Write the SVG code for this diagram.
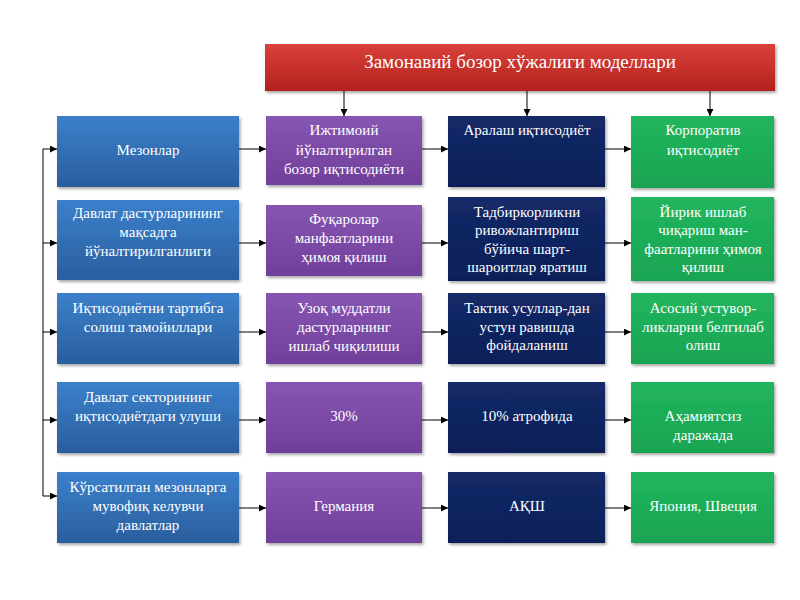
<svg xmlns="http://www.w3.org/2000/svg" width="800" height="600" viewBox="0 0 800 600">
<defs>
<linearGradient id="gRed" x1="0" y1="0" x2="0" y2="1"><stop offset="0" stop-color="#d9413a"/><stop offset="1" stop-color="#b3221e"/></linearGradient>
<linearGradient id="gBlue" x1="0" y1="0" x2="0" y2="1"><stop offset="0" stop-color="#3b80cb"/><stop offset="1" stop-color="#2a5e9e"/></linearGradient>
<linearGradient id="gPurple" x1="0" y1="0" x2="0" y2="1"><stop offset="0" stop-color="#8656b2"/><stop offset="1" stop-color="#703f9a"/></linearGradient>
<linearGradient id="gNavy" x1="0" y1="0" x2="0" y2="1"><stop offset="0" stop-color="#132a68"/><stop offset="1" stop-color="#0d1f58"/></linearGradient>
<linearGradient id="gGreen" x1="0" y1="0" x2="0" y2="1"><stop offset="0" stop-color="#22b55e"/><stop offset="1" stop-color="#19a452"/></linearGradient>
<filter id="sh" x="-10%" y="-10%" width="130%" height="130%"><feDropShadow dx="1.5" dy="2" stdDeviation="1.5" flood-color="#000" flood-opacity="0.35"/></filter>
<marker id="ah" viewBox="0 0 10 10" refX="10" refY="5" markerWidth="7" markerHeight="7" markerUnits="userSpaceOnUse" orient="auto"><path d="M0,0 L10,5 L0,10 z" fill="#000"/></marker>
</defs>
<style>
.t{font-family:"Liberation Serif","Times New Roman",serif;font-size:15px;fill:#fff;text-anchor:middle}
.h{font-family:"Liberation Serif","Times New Roman",serif;font-size:19px;fill:#fff;text-anchor:middle}
.c{stroke:#000;stroke-width:1;fill:none;marker-end:url(#ah)}
.b{fill:url(#gBlue);filter:url(#sh)}
.p{fill:url(#gPurple);filter:url(#sh)}
.n{fill:url(#gNavy);filter:url(#sh)}
.g{fill:url(#gGreen);filter:url(#sh)}
</style>
<rect width="800" height="600" fill="#fff"/>
<g id="connectors">
<path class="c" d="M344,91 V116"/>
<path class="c" d="M527,91 V116"/>
<path class="c" d="M710,91 V116"/>
<path d="M43,149 V496" stroke="#000" stroke-width="1" fill="none"/>
<path class="c" d="M43,149 H57"/>
<path class="c" d="M43,243 H57"/>
<path class="c" d="M43,332 H57"/>
<path class="c" d="M43,420 H57"/>
<path class="c" d="M43,496 H57"/>
<path class="c" d="M239,149 H266"/>
<path class="c" d="M422,149 H448"/>
<path class="c" d="M605,149 H631"/>
<path class="c" d="M239,243 H266"/>
<path class="c" d="M422,243 H448"/>
<path class="c" d="M605,243 H631"/>
<path class="c" d="M239,332 H266"/>
<path class="c" d="M422,332 H448"/>
<path class="c" d="M605,332 H631"/>
<path class="c" d="M239,420 H266"/>
<path class="c" d="M422,420 H448"/>
<path class="c" d="M605,420 H631"/>
<path class="c" d="M239,508 H266"/>
<path class="c" d="M422,508 H448"/>
<path class="c" d="M605,508 H631"/>
</g>
<g id="header"><rect x="265" y="44" width="510" height="47" fill="url(#gRed)" filter="url(#sh)"/><text class="h" x="520" y="68">Замонавий бозор хўжалиги моделлари</text></g>

<g id="r1c1"><rect class="b" x="57" y="116" width="182" height="71"/><text class="t" x="148" y="155">Мезонлар</text></g>
<g id="r1c2"><rect class="p" x="266" y="116" width="156" height="69"/><text class="t" x="344" y="135">Ижтимоий</text><text class="t" x="344" y="155">йўналтирилган</text><text class="t" x="344" y="174">бозор иқтисодиёти</text></g>
<g id="r1c3"><rect class="n" x="448" y="116" width="157" height="71"/><text class="t" x="527" y="135">Аралаш иқтисодиёт</text></g>
<g id="r1c4"><rect class="g" x="631" y="116" width="143" height="72"/><text class="t" x="703" y="135">Корпоратив</text><text class="t" x="703" y="155">иқтисодиёт</text></g>

<g id="r2c1"><rect class="b" x="57" y="200" width="182" height="80"/><text class="t" x="148" y="218">Давлат дастурларининг</text><text class="t" x="148" y="237">мақсадга</text><text class="t" x="148" y="256">йўналтирилганлиги</text></g>
<g id="r2c2"><rect class="p" x="266" y="205" width="156" height="71"/><text class="t" x="344" y="224">Фуқаролар</text><text class="t" x="344" y="243">манфаатларини</text><text class="t" x="344" y="262">ҳимоя қилиш</text></g>
<g id="r2c3"><rect class="n" x="448" y="197" width="157" height="84"/><text class="t" x="527" y="217">Тадбиркорликни</text><text class="t" x="527" y="235">ривожлантириш</text><text class="t" x="527" y="254">бўйича шарт-</text><text class="t" x="527" y="272">шароитлар яратиш</text></g>
<g id="r2c4"><rect class="g" x="631" y="197" width="143" height="84"/><text class="t" x="703" y="217">Йирик ишлаб</text><text class="t" x="703" y="235">чиқариш ман-</text><text class="t" x="703" y="254">фаатларини ҳимоя</text><text class="t" x="703" y="272">қилиш</text></g>

<g id="r3c1"><rect class="b" x="57" y="293" width="182" height="71"/><text class="t" x="148" y="313">Иқтисодиётни тартибга</text><text class="t" x="148" y="332">солиш тамойиллари</text></g>
<g id="r3c2"><rect class="p" x="266" y="293" width="156" height="71"/><text class="t" x="344" y="313">Узоқ муддатли</text><text class="t" x="344" y="332">дастурларнинг</text><text class="t" x="344" y="351">ишлаб чиқилиши</text></g>
<g id="r3c3"><rect class="n" x="448" y="293" width="157" height="71"/><text class="t" x="527" y="313">Тактик усуллар-дан</text><text class="t" x="527" y="332">устун равишда</text><text class="t" x="527" y="350">фойдаланиш</text></g>
<g id="r3c4"><rect class="g" x="631" y="293" width="143" height="71"/><text class="t" x="703" y="313">Асосий устувор-</text><text class="t" x="703" y="332">ликларни белгилаб</text><text class="t" x="703" y="350">олиш</text></g>

<g id="r4c1"><rect class="b" x="57" y="382" width="182" height="71"/><text class="t" x="148" y="402">Давлат секторининг</text><text class="t" x="148" y="421">иқтисодиётдаги улуши</text></g>
<g id="r4c2"><rect class="p" x="266" y="382" width="156" height="71"/><text class="t" x="344" y="421">30%</text></g>
<g id="r4c3"><rect class="n" x="448" y="382" width="157" height="71"/><text class="t" x="527" y="421">10% атрофида</text></g>
<g id="r4c4"><rect class="g" x="631" y="382" width="143" height="71"/><text class="t" x="703" y="421">Аҳамиятсиз</text><text class="t" x="703" y="440">даражада</text></g>

<g id="r5c1"><rect class="b" x="57" y="472" width="182" height="71"/><text class="t" x="148" y="492">Кўрсатилган мезонларга</text><text class="t" x="148" y="511">мувофиқ келувчи</text><text class="t" x="148" y="530">давлатлар</text></g>
<g id="r5c2"><rect class="p" x="266" y="472" width="156" height="71"/><text class="t" x="344" y="511">Германия</text></g>
<g id="r5c3"><rect class="n" x="448" y="472" width="157" height="71"/><text class="t" x="527" y="511">АҚШ</text></g>
<g id="r5c4"><rect class="g" x="631" y="472" width="143" height="71"/><text class="t" x="703" y="511">Япония, Швеция</text></g>
</svg>
